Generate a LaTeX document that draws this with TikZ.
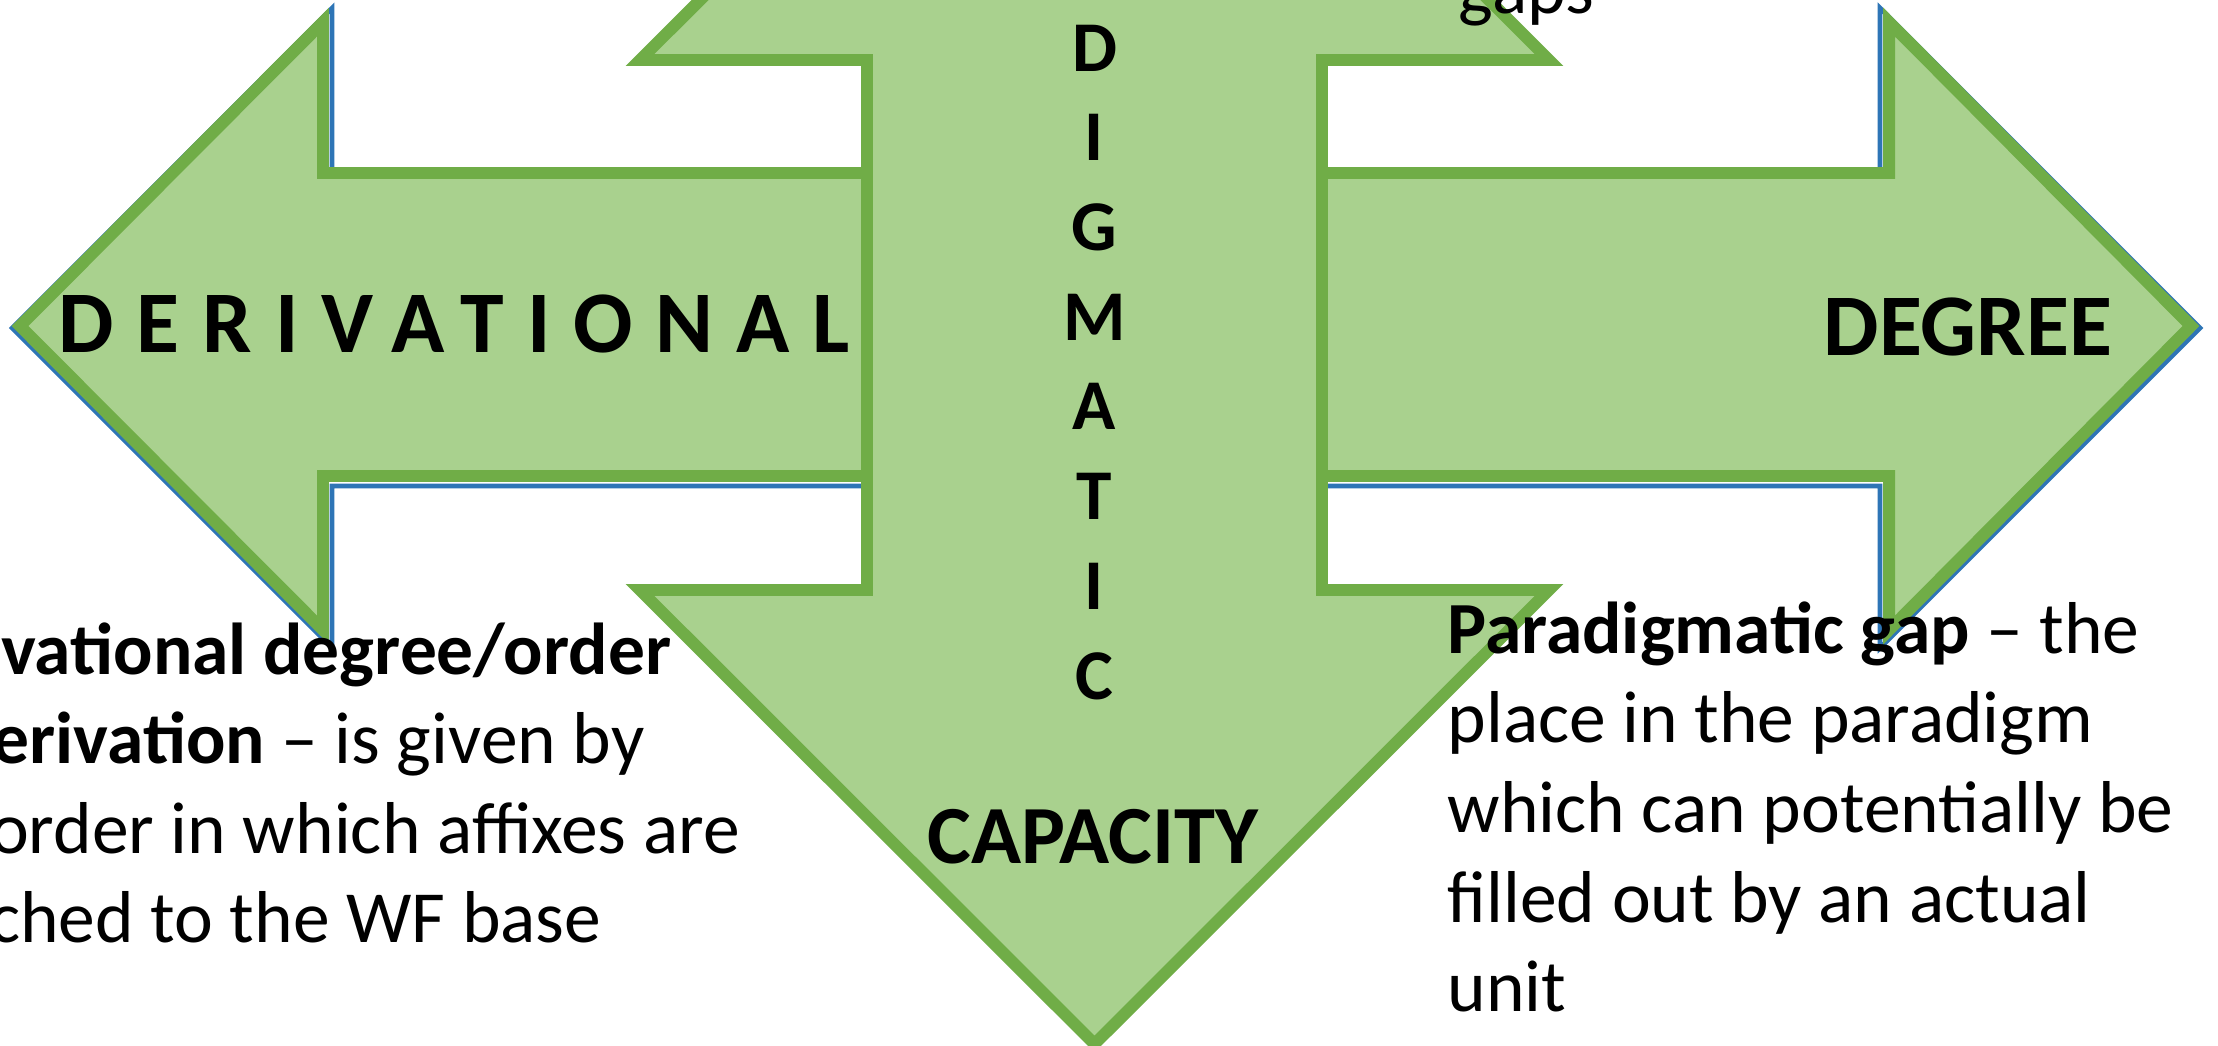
\documentclass[tikz,border=0pt]{standalone}
\usepackage{fontspec}
\setmainfont{Carlito}
\definecolor{arrowfill}{HTML}{A9D18E}
\definecolor{arrowline}{HTML}{70AD47}
\definecolor{shadowline}{HTML}{2E75B6}

\begin{document}
\begin{tikzpicture}[x=0.01cm,y=-0.01cm,
        arrowshape/.style={fill=arrowfill,draw=arrowline,line width=3.4pt},
        biglabel/.style={inner sep=0pt,font=\bfseries\fontsize{25}{30}\selectfont},
        body/.style={inner sep=0pt,anchor=base west,font=\fontsize{20.9}{25.5}\selectfont}]
        \useasboundingbox (0,0) rectangle (2218,1045);
        \clip (0,0) rectangle (2218,1045);
        % blue outline behind the left-right arrow
        \draw[shadowline,line width=1.3pt] (12,328) -- (332,8) -- (332,172) -- (1880,172)
            -- (1880,8) -- (2200,328) -- (1880,648) -- (1880,486) -- (332,486) -- (332,648) -- cycle;
        % left-right arrow
        \draw[arrowshape] (20,326) -- (323,22) -- (323,173) -- (1889,173) -- (1889,22)
            -- (2191,326) -- (1889,630) -- (1889,476) -- (323,476) -- (323,630) -- cycle;
        % up-down arrow
        \draw[arrowshape] (1094.5,-394) -- (1549,60) -- (1322,60) -- (1322,590) -- (1549,590)
            -- (1094.5,1044) -- (640,590) -- (867,590) -- (867,60) -- (640,60) -- cycle;

        \node[biglabel,anchor=west] (derivational) at (58,324)
            {\addfontfeature{LetterSpace=26}DERIVATIONAL};
        \node[biglabel] (degree) at (1968,327) {DEGREE};
        \node[biglabel,font=\bfseries\fontsize{23.5}{28}\selectfont] (capacity) at (1093,837) {CAPACITY};
        \foreach \c [count=\i from 0] in {D,I,G,M,A,T,I,C}
        \node[biglabel,font=\bfseries\fontsize{20.3}{24}\selectfont] (v\i) at (1094.5,48+89.7*\i) {\c};

        % texts
        \node[body] (gaps) at (1458,13) {gaps};
        \node[body] (der1) at (-127,674) {\textbf{Derivational degree/order}};
        \node[body] (der2) at (-127,763.5) {\textbf{of derivation} -- is given by};
        \node[body] (der3) at (-127,853) {the order in which affixes are};
        \node[body] (der4) at (-127,942.5) {attached to the WF base};
        \node[body] (gap0) at (1447,653) {\textbf{Paradigmatic gap} -- the};
        \foreach \t [count=\i] in {place in the paradigm,which can potentially be,filled out by an actual,unit}
        \node[body] (gap\i) at (1447,653+89.7*\i) {\t};
\end{tikzpicture}
\end{document}
